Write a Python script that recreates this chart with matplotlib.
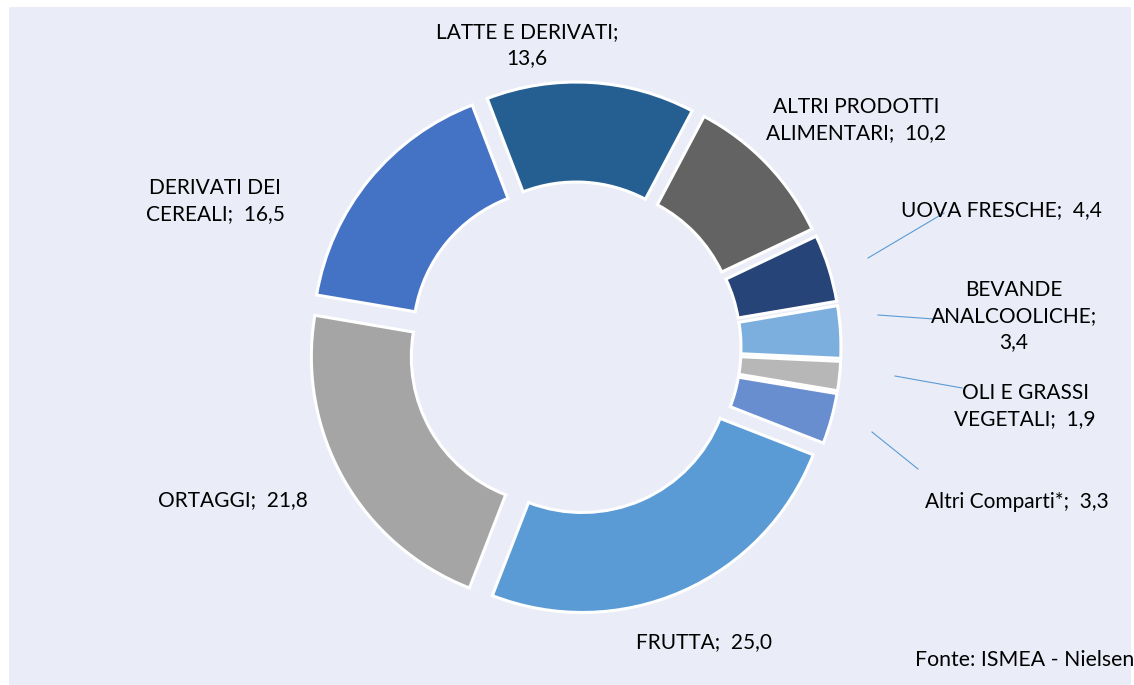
import numpy as np
import matplotlib
matplotlib.use("Agg")
import matplotlib.pyplot as plt
from matplotlib.patches import Rectangle

# data (% share)
categories = ["LATTE E DERIVATI", "ALTRI PRODOTTI\nALIMENTARI", "UOVA FRESCHE",
              "BEVANDE\nANALCOOLICHE", "OLI E GRASSI\nVEGETALI", "Altri Comparti*",
              "FRUTTA", "ORTAGGI", "DERIVATI DEI\nCEREALI"]
values = [13.6, 10.2, 4.4, 3.4, 1.9, 3.3, 25.0, 21.8, 16.5]
separators = ["\n", "  ", "  ", "\n", "  ", "  ", "  ", "  ", "  "]
colors = ["#255E91", "#636363", "#264478", "#7CAFDD", "#B7B7B7",
          "#698ED0", "#5B9BD5", "#A5A5A5", "#4472C4"]
source = "Fonte: ISMEA - Nielsen"

plt.rcParams["font.family"] = ["Lato", "DejaVu Sans"]

W, H = 1134, 685
fig = plt.figure(figsize=(W / 100, H / 100), dpi=100)
fig.patch.set_facecolor("white")

ax = fig.add_axes([0, 0, 1, 1])
ax.patch.set_visible(False)


def px(x, y):
    # pixel position (from top-left) -> data coords
    return x, H - y


# chart area background
ax.add_patch(Rectangle((9, 0), 1122, 678, facecolor="#EAEDF7", edgecolor="none",
                       zorder=-10))

cx, cy = px(575, 348)
R = 248
start = 111

wedges, _ = ax.pie(values, colors=colors, startangle=start, counterclock=False,
                   radius=R, center=(cx, cy), explode=[18] * len(values),
                   wedgeprops=dict(width=100, edgecolor="white", linewidth=2.2))
ax.set_xlim(0, W)
ax.set_ylim(0, H)
ax.set_aspect("equal")
ax.axis("off")

# label centres in pixels
label_pos = [(527, 45), (856, 120), (1001, 210), (1014, 316), (1025, 406),
             (1017, 502), (704, 642), (233, 500), (215, 201)]
# leader lines (pixels) for the small slices: start, end
leaders = {2: ((868, 258), (944, 213)), 3: ((878, 315), (934, 319)),
           4: ((895, 376), (962, 388)), 5: ((872, 432), (918, 469))}

for i, (name, val, sep) in enumerate(zip(categories, values, separators)):
    txt = f"{name};{sep}{val:.1f}".replace(".", ",")
    x, y = px(*label_pos[i])
    ax.text(x, y, txt, ha="center", va="center", fontsize=15, linespacing=1.4,
            color="black", zorder=5)
    if i in leaders:
        (x0, y0), (x1, y1) = [px(*p) for p in leaders[i]]
        ax.plot([x0, x1], [y0, y1], color="#5B9BD5", lw=0.8, zorder=4)

ax.text(*px(915, 660), source, ha="left", va="center", fontsize=15.3, color="black")

fig.savefig("out.png", dpi=100)
